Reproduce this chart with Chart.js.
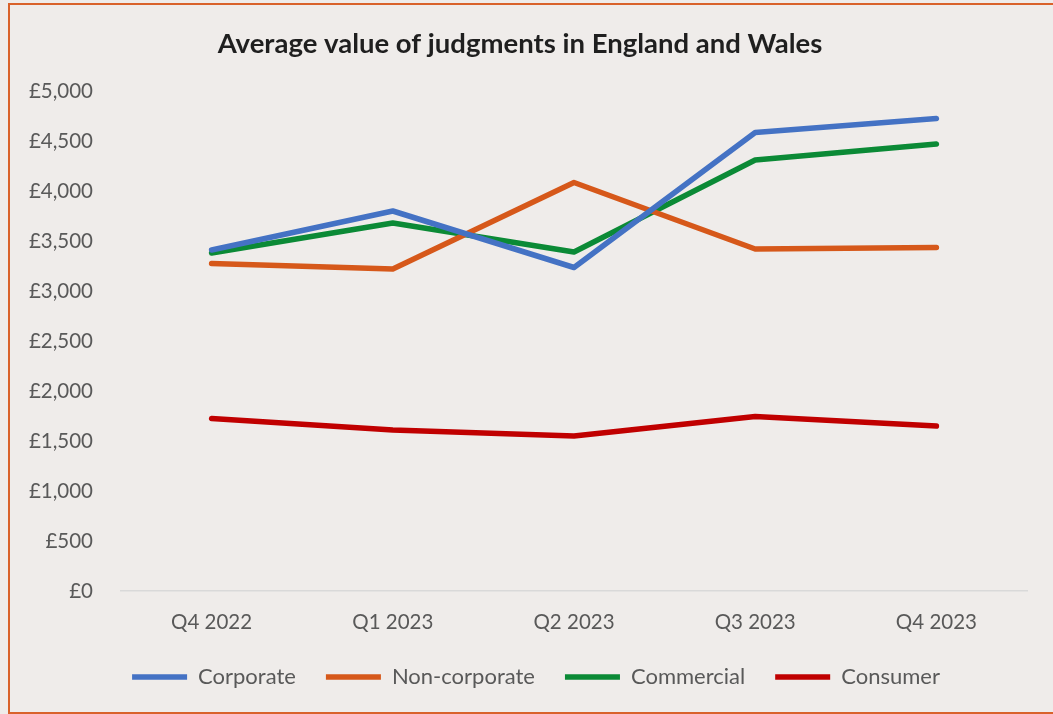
<!DOCTYPE html>
<html>
<head>
<meta charset="utf-8">
<script src="https://cdn.jsdelivr.net/npm/chart.js@4.4.1/dist/chart.umd.min.js"></script>
<style>
  html, body { margin: 0; padding: 0; background: #efecea; overflow: hidden; }
  #wrap { position: relative; width: 1053px; height: 714px; }
  #frame { position: absolute; left: 8px; top: 3px; width: 1100px; height: 707px; border: 2px solid #d9622b; pointer-events: none; }
  canvas { position: absolute; left: 0; top: 0; }
</style>
</head>
<body>
<div id="wrap">
  <canvas id="c" width="1053" height="714"></canvas>
  <div id="frame"></div>
</div>
<script>
const categories = ['Q4 2022', 'Q1 2023', 'Q2 2023', 'Q3 2023', 'Q4 2023'];
const corporate = [3410, 3800, 3235, 4585, 4725];
const nonCorporate = [3275, 3220, 4085, 3420, 3435];
const commercial = [3380, 3680, 3390, 4310, 4470];
const consumer = [1725, 1610, 1550, 1745, 1650];
const seriesNames = ['Corporate', 'Non-corporate', 'Commercial', 'Consumer'];
const seriesColors = ['#4472c4', '#d6581a', '#0b8a36', '#c00000'];
const titleText = 'Average value of judgments in England and Wales';

const FONT = 'Lato, "Open Sans", sans-serif';
const seriesData = [corporate, nonCorporate, commercial, consumer];

// title sits a little left of centre and the legend a little right, as in the reference
const blockShift = {
  id: 'blockShift',
  afterLayout(chart) {
    const t = chart.titleBlock;
    if (t) { t.left -= 8; t.right -= 8; }
    const l = chart.legend;
    if (l) { l.left += 8; l.right += 8; }
  }
};

new Chart(document.getElementById('c'), {
  type: 'line',
  data: {
    labels: categories,
    datasets: seriesData.map((d, i) => ({
      label: seriesNames[i],
      data: d,
      borderColor: seriesColors[i],
      backgroundColor: seriesColors[i],
      borderWidth: 5.5,
      borderCapStyle: 'round',
      borderJoinStyle: 'round',
      pointRadius: 0,
      pointHoverRadius: 0,
      tension: 0,
      fill: false
    }))
  },
  plugins: [blockShift],
  options: {
    responsive: false,
    animation: false,
    devicePixelRatio: 1,
    layout: { padding: { left: 29, right: 26, top: 28, bottom: 16 } },
    plugins: {
      title: {
        display: true,
        text: titleText,
        color: '#1f1f1f',
        font: { family: FONT, size: 27.5, weight: 'bold', lineHeight: 1.2 },
        padding: { top: 0, bottom: 30 }
      },
      legend: {
        position: 'bottom',
        labels: {
          usePointStyle: true,
          pointStyle: 'line',
          pointStyleWidth: 55,
          color: '#595959',
          font: { family: FONT, size: 22 },
          padding: 30
        }
      },
      tooltip: { enabled: false }
    },
    scales: {
      x: {
        offset: true,
        afterFit: (s) => { s.height = 45; },
        grid: { display: false, drawTicks: false },
        border: { display: true, color: '#d9d9d9', width: 1.5 },
        ticks: { color: '#595959', font: { family: FONT, size: 20.5 }, padding: 19, maxRotation: 0 }
      },
      y: {
        min: 0,
        max: 5000,
        afterFit: (s) => { s.width = 92; },
        grid: { display: false, drawTicks: false },
        border: { display: false },
        ticks: {
          stepSize: 500,
          padding: 28,
          color: '#595959',
          font: { family: FONT, size: 20.5 },
          callback: (v) => '£' + Number(v).toLocaleString('en-GB')
        }
      }
    }
  }
});
</script>
</body>
</html>
